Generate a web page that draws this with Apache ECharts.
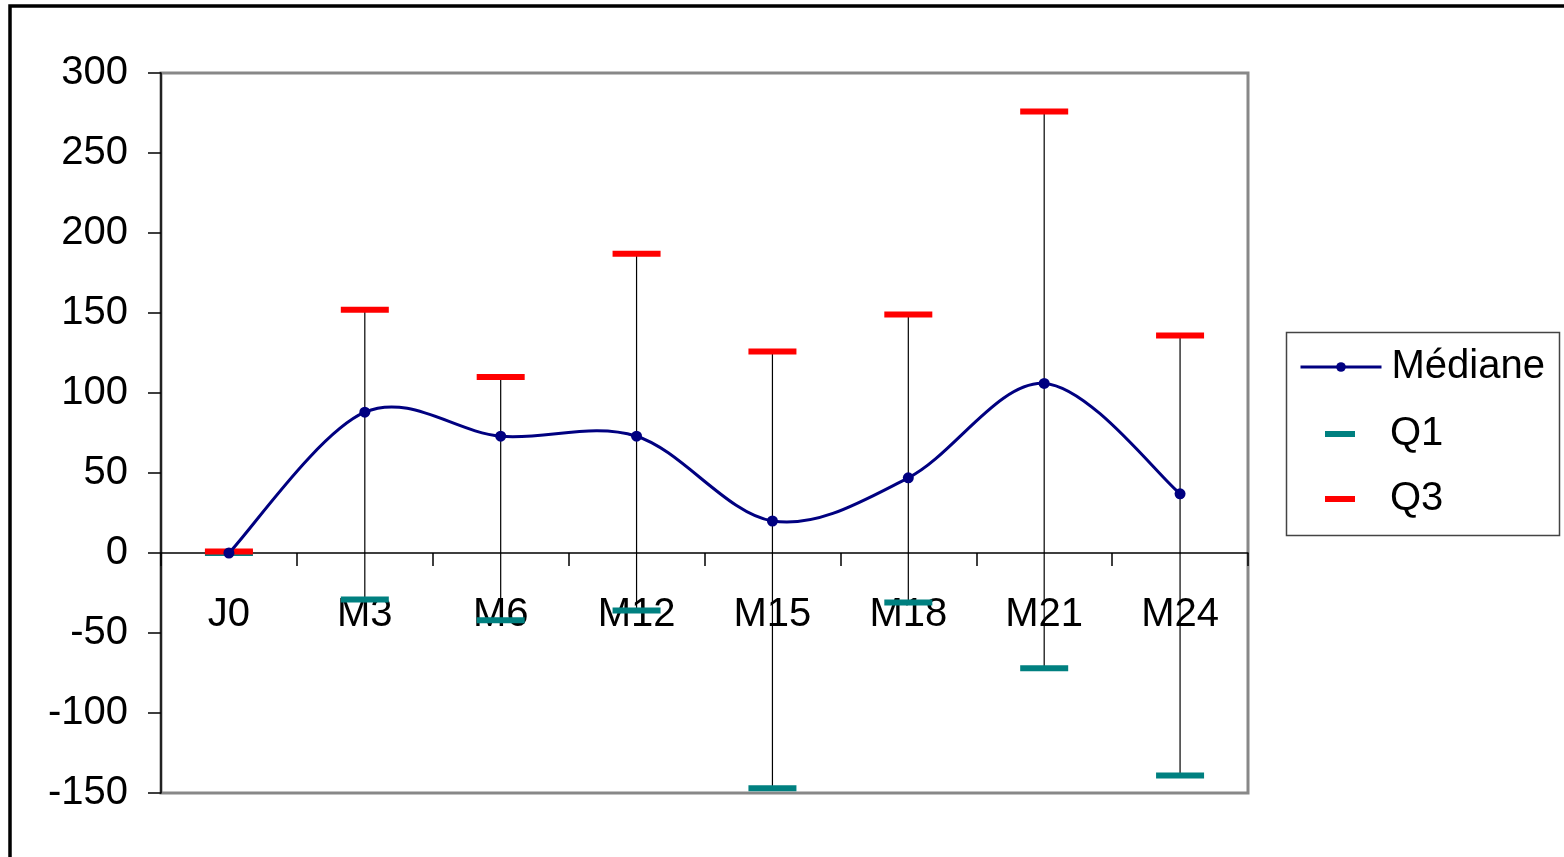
<!DOCTYPE html>
<html>
<head>
<meta charset="utf-8">
<script src="https://cdn.jsdelivr.net/npm/echarts@6/dist/echarts.min.js"></script>
<style>
html,body{margin:0;padding:0;background:#fff;}
#c{width:1564px;height:857px;}
</style>
</head>
<body>
<div id="c"></div>
<script>
const categories = ['J0','M3','M6','M12','M15','M18','M21','M24'];
const mediane = [0, 88, 73, 73, 20, 47, 106, 37];
const q1 = [0, -29, -42, -36, -147, -31, -72, -139];
const q3 = [1, 152, 110, 187, 126, 149, 276, 136];
const yTicks = {min: -150, max: 300, interval: 50};

const font = '"Liberation Sans", Arial, sans-serif';
const chart = echarts.init(document.getElementById('c'), null, {renderer: 'canvas'});

const errData = categories.map((c, i) => [i, q1[i], q3[i]]);

// Excel-like smoothed curve (Catmull-Rom as cubic Bezier) through library coordinates
function smoothPath(api) {
  const pts = mediane.map((v, i) => api.coord([i, v]));
  const n = pts.length;
  let d = 'M' + pts[0][0] + ',' + pts[0][1];
  for (let i = 0; i < n - 1; i++) {
    const p0 = pts[Math.max(i - 1, 0)], p1 = pts[i], p2 = pts[i + 1], p3 = pts[Math.min(i + 2, n - 1)];
    const c1 = [p1[0] + (p2[0] - p0[0]) / 6, p1[1] + (p2[1] - p0[1]) / 6];
    const c2 = [p2[0] - (p3[0] - p1[0]) / 6, p2[1] - (p3[1] - p1[1]) / 6];
    d += ' C' + c1[0] + ',' + c1[1] + ' ' + c2[0] + ',' + c2[1] + ' ' + p2[0] + ',' + p2[1];
  }
  return d;
}

chart.setOption({
  animation: false,
  backgroundColor: '#fff',
  grid: {left: 161, right: 316, top: 73, bottom: 64, show: true, borderColor: '#888', borderWidth: 3,
         backgroundColor: 'transparent', containLabel: false, outerBoundsMode: 'none'},
  xAxis: {
    type: 'category',
    data: categories,
    boundaryGap: true,
    position: 'bottom',
    offset: -240,
    axisLine: {onZero: false, lineStyle: {color: '#000', width: 1.5}},
    axisTick: {show: true, length: 13, lineStyle: {color: '#000', width: 1.5}},
    axisLabel: {color: '#000', fontSize: 40, fontFamily: font, margin: 42},
    splitLine: {show: false}
  },
  yAxis: {
    type: 'value',
    min: yTicks.min, max: yTicks.max, interval: yTicks.interval,
    axisLine: {show: true, lineStyle: {color: '#000', width: 1.5}},
    axisTick: {show: true, length: 13, lineStyle: {color: '#000', width: 1.5}},
    axisLabel: {color: '#000', fontSize: 40, fontFamily: font, margin: 33},
    splitLine: {show: false}
  },
  legend: [
    {
      data: ['Médiane'], orient: 'vertical', left: 1299, top: 347, padding: 0,
      itemWidth: 81, itemHeight: 12, itemGap: 0,
      lineStyle: {color: '#000080', width: 3, opacity: 1},
      textStyle: {color: '#000', fontSize: 40, fontFamily: font, padding: [0,0,0,5]}
    },
    {
      data: [{name: 'Q1', icon: 'rect'}, {name: 'Q3', icon: 'rect'}], orient: 'vertical', left: 1325, top: 414, padding: 0,
      itemWidth: 30, itemHeight: 6, itemGap: 25,
      itemStyle: {opacity: 1},
      textStyle: {color: '#000', fontSize: 40, fontFamily: font, padding: [0,0,0,30]}
    }
  ],
  graphic: [
    {type: 'rect', left: 1284, top: 330, shape: {width: 273, height: 203}, style: {fill: 'none', stroke: '#444', lineWidth: 1.5}, z: -1},
    {type: 'rect', shape: {x: 10, y: 6, width: 1700, height: 1000}, style: {fill: 'none', stroke: '#000', lineWidth: 3.5}, z: 100}
  ],
  series: [
    {
      name: 'err', type: 'custom', z: 1, silent: true,
      renderItem: function (params, api) {
        const p1 = api.coord([api.value(0), api.value(1)]);
        const p2 = api.coord([api.value(0), api.value(2)]);
        return {type: 'line', shape: {x1: p1[0], y1: p1[1], x2: p2[0], y2: p2[1]}, style: {stroke: '#000', lineWidth: 1.2}};
      },
      data: errData
    },
    {
      name: 'curve', type: 'custom', z: 3, silent: true,
      renderItem: function (params, api) {
        if (params.dataIndex !== 0) return null;
        return {type: 'path', shape: {pathData: smoothPath(api)}, style: {fill: 'none', stroke: '#000080', lineWidth: 3}};
      },
      data: mediane.map((v, i) => [i, v])
    },
    {
      name: 'Médiane', type: 'line', data: mediane, z: 4,
      symbol: 'circle', symbolSize: 11,
      itemStyle: {color: '#000080', opacity: 1},
      lineStyle: {color: '#000080', width: 3, opacity: 0}
    },
    {
      name: 'Q1', type: 'scatter', data: q1, symbol: 'rect', symbolSize: [48, 6], z: 2,
      itemStyle: {color: '#008080', opacity: 1}
    },
    {
      name: 'Q3', type: 'scatter', data: q3, symbol: 'rect', symbolSize: [48, 6], z: 2,
      itemStyle: {color: '#FF0000', opacity: 1}
    }
  ]
});
</script>
</body>
</html>
